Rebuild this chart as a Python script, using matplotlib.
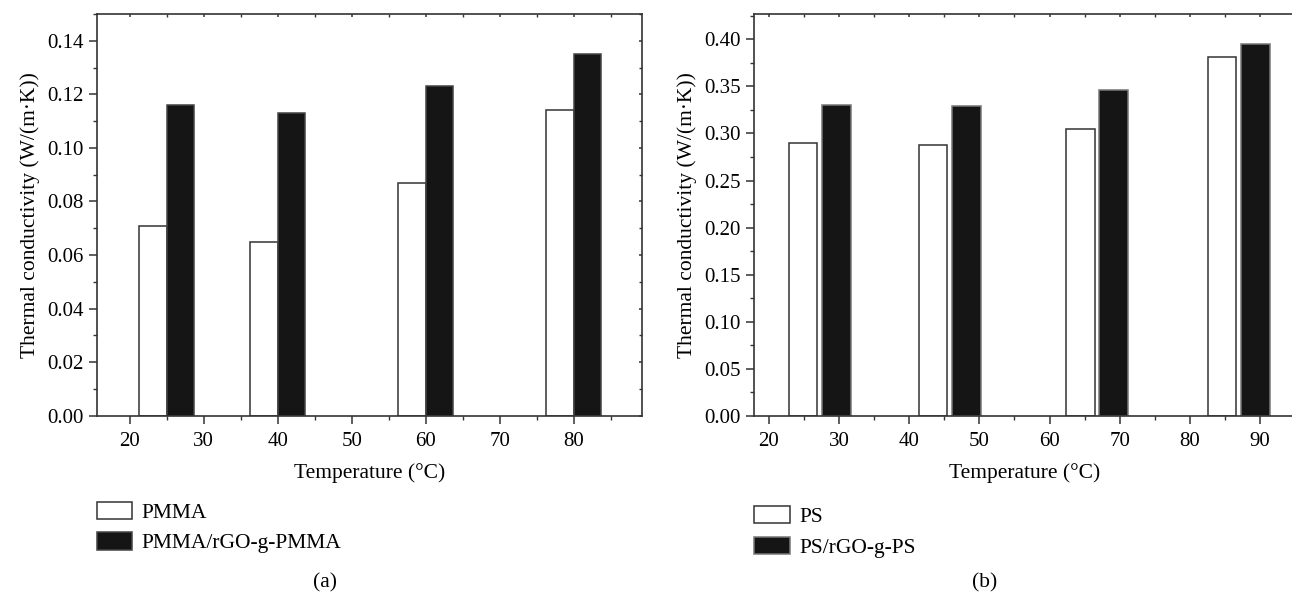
import matplotlib
matplotlib.use("Agg")
import matplotlib.pyplot as plt
from matplotlib.ticker import MultipleLocator, FormatStrFormatter

# (a) PMMA
temps_a = [25, 40, 60, 80]
pmma = [0.071, 0.065, 0.087, 0.114]
pmma_rgo = [0.116, 0.113, 0.123, 0.135]
# (b) PS  (group centres as drawn in the figure)
temps_b = [27.25, 45.8, 66.75, 86.95]
ps = [0.290, 0.288, 0.305, 0.381]
ps_rgo = [0.3305, 0.329, 0.346, 0.395]

xticks_a = [20, 30, 40, 50, 60, 70, 80]
xticks_b = [20, 30, 40, 50, 60, 70, 80, 90]

plt.rcParams["font.family"] = ["Liberation Serif", "DejaVu Serif"]
FS = 15.5
TFS = 15
EDGE = "#333333"
BLACK = "#151515"

W, H = 1292, 592
fig = plt.figure(figsize=(W / 100, H / 100), dpi=100)
axa = fig.add_axes([97 / W, 1 - 415.7 / H, (642 - 97) / W, (415.7 - 14) / H])
axb = fig.add_axes([754 / W, 1 - 415.7 / H, (1296 - 754) / W, (415.7 - 14) / H])


def style(ax, ymaj, ymin):
    ax.yaxis.set_major_locator(MultipleLocator(ymaj))
    ax.yaxis.set_minor_locator(MultipleLocator(ymin))
    ax.yaxis.set_major_formatter(FormatStrFormatter("%.2f"))
    ax.xaxis.set_minor_locator(MultipleLocator(5))
    ax.tick_params(which="major", direction="out", length=5.5, width=1.1,
                   color=EDGE, labelsize=TFS, pad=4)
    ax.tick_params(axis="x", which="major", pad=6)
    ax.tick_params(which="minor", direction="out", length=3, width=1.0, color=EDGE)
    ax.tick_params(which="both", top=True, right=True, labeltop=False, labelright=False)
    for s in ax.spines.values():
        s.set_color(EDGE)
        s.set_linewidth(1.2)
    ax.set_xlabel("Temperature (°C)", fontsize=FS, labelpad=9)
    ax.set_ylabel("Thermal conductivity (W/(m·K))", fontsize=FS, labelpad=5)


def mirror(ax):
    # small inward mirror ticks on top and right
    for t in ax.xaxis.get_major_ticks() + ax.xaxis.get_minor_ticks():
        t.tick2line.set_marker(3)
        t.tick2line.set_markersize(2.5)
    for t in ax.yaxis.get_major_ticks() + ax.yaxis.get_minor_ticks():
        t.tick2line.set_marker(0)
        t.tick2line.set_markersize(2.5)


# panel (a)
wa = 3.7
axa.bar(temps_a, pmma, width=-wa, align="edge", color="white", edgecolor=EDGE,
        linewidth=1.1, label="PMMA")
axa.bar(temps_a, pmma_rgo, width=wa, align="edge", color=BLACK, edgecolor="#444444",
        linewidth=1.1, label="PMMA/rGO-g-PMMA")
axa.set_xlim(15.6, 89.2)
axa.set_ylim(0, 0.150)
axa.set_xticks(xticks_a)
style(axa, 0.02, 0.01)

# panel (b)
wb, gap = 4.05, 0.35
axb.bar([t - gap for t in temps_b], ps, width=-wb, align="edge", color="white",
        edgecolor=EDGE, linewidth=1.1, label="PS")
axb.bar([t + gap for t in temps_b], ps_rgo, width=wb, align="edge", color=BLACK,
        edgecolor="#777777", linewidth=1.1, label="PS/rGO-g-PS")
axb.set_xlim(17.9, 95.1)
axb.set_ylim(0, 0.427)
axb.set_xticks(xticks_b)
style(axb, 0.05, 0.025)

fig.canvas.draw()
mirror(axa)
mirror(axb)

for ax, x0, y0, lab, xl in [(axa, 96.7, 504.7, "(a)", 325), (axb, 754.3, 509.3, "(b)", 985)]:
    h, l = ax.get_legend_handles_labels()
    fig.legend(h, l, loc="upper left", bbox_to_anchor=(x0 / W, 1 - (y0 - 3) / H),
               frameon=False, fontsize=FS, borderpad=0, borderaxespad=0,
               handlelength=1.65, handleheight=0.85, handletextpad=0.45,
               labelspacing=0.45)
    fig.text(xl / W, 1 - 583 / H, lab, fontsize=FS, ha="center", va="center")

fig.savefig("out.png", dpi=100)
